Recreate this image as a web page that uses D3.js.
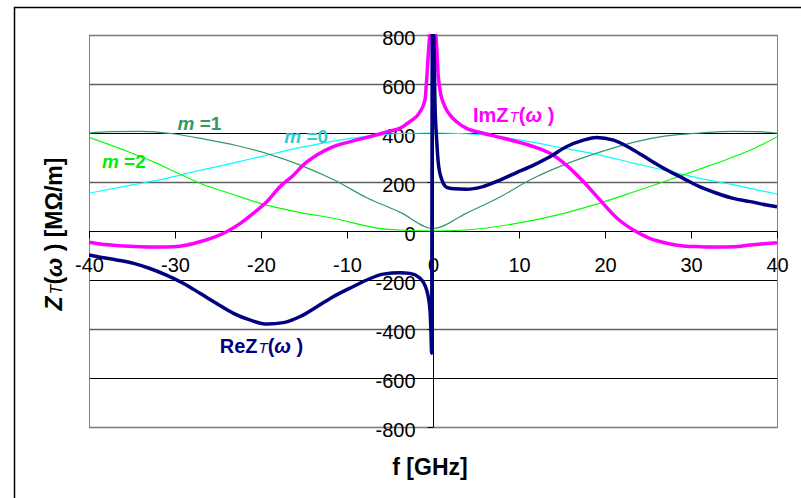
<!DOCTYPE html>
<html>
<head>
<meta charset="utf-8">
<script src="https://cdn.jsdelivr.net/npm/d3@7"></script>
<style>
  body { margin: 0; background: #fff; }
  svg { display: block; font-family: Arial, "Liberation Sans", sans-serif; }
</style>
</head>
<body>
<div id="chart"></div>
<script>
////////////////////////////////////////////////////////////////////////
// Data (f in GHz, Z in MOhm/m)

let imFreq = [-40, -38.7, -36.5, -34.1, -32, -30.2, -28.6, -27.1, -25.5, -24, -22.4, -20.9,
              -19.3, -17.8, -16.2, -15.1, -13.5, -11.6, -9.7, -7.7, -6.2, -5.0, -3.8, -2.7,
              -1.5, -0.93, -0.74, -0.54, -0.35, 0.3, 0.62, 0.81, 1.4, 1.98, 2.75, 3.9, 5.85,
              7.8, 9.7, 11.7, 13.6, 15.5, 17.5, 19.4, 21.4, 23.3, 25.2, 27.2, 29.1, 31, 33,
              34.9, 36.9, 38.5, 40];
let imValue = [-46, -53, -60, -64, -65, -64, -57, -44, -26, -3, 31, 72,
               120, 181, 229, 269, 310, 344, 364, 382, 396, 408, 420, 446,
               487, 535, 616, 725, 800, 800, 630, 576, 507, 473, 446, 419, 399,
               382, 365, 344, 317, 269, 201, 127, 52, 4, -30, -50, -61, -64, -65,
               -64, -57, -52, -48];

let reFreq = [-40, -38.7, -36.8, -34.8, -33, -31, -29, -27.1, -25.2, -23.2, -21.3, -19.3,
              -17.4, -15.5, -13.5, -11.6, -9.7, -7.7, -5.8, -3.8, -2.7, -1.5, -0.74, -0.35,
              -0.23, -0.16, -0.08, 0.08, 0.23, 0.43, 0.62, 1.0, 1.6, 2.4, 3.9, 5.8, 7.8,
              9.7, 11.7, 13.6, 15.5, 17.5, 19.0, 21.0, 23.3, 25.2, 27.2, 29.1, 31, 33,
              34.9, 36.9, 38.8, 40];
let reValue = [-98, -107, -118, -132, -152, -180, -214, -254, -295, -336, -363, -380,
               -374, -350, -309, -268, -234, -200, -176, -170, -173, -193, -241, -322,
               -418, -499, 800, 800, 521, 370, 276, 212, 178, 172, 170, 181, 208,
               238, 269, 303, 344, 371, 382, 371, 331, 290, 249, 215, 181, 154,
               133, 120, 106, 99];

let m0Freq  = [-40, -35, -31, -27.2, -23.3, -19.4, -15.5, -11.7, -7.8, -3.9, 0,
               3.9, 7.8, 11.7, 15.5, 19.4, 23.3, 27.2, 31, 35, 40];
let m0Value = [154, 188, 215, 247, 277, 309, 340, 366, 386, 398, 400,
               397, 384, 362, 336, 310, 277, 246, 215, 188, 150];

let m1Freq  = [-40, -37.6, -34, -30.2, -26.3, -23, -19.3, -15.5, -11.6, -7.7, -3.8, 0,
               3.9, 7.8, 11.6, 15.5, 19.4, 23.3, 27.1, 31, 34.9, 37.6, 40];
let m1Value = [400, 406, 407, 397, 373, 350, 316, 270, 210, 136, 76, 10,
               73, 139, 214, 274, 322, 362, 388, 400, 407, 406, 400];

let m2Freq  = [-40, -36, -32.1, -29.6, -27.1, -23.3, -20.1, -15.5, -11.6, -6.2, -3.8, 0,
               3.8, 9.7, 14.5, 19.4, 23.3, 26.5, 29.1, 32, 34.9, 37.5, 40];
let m2Value = [382, 331, 276, 235, 195, 150, 113, 76, 52, 11, 4, 0,
               4, 31, 66, 114, 159, 197, 229, 265, 302, 340, 384];

let xTicks = [-40, -30, -20, -10, 0, 10, 20, 30, 40];
let yTicks = [-800, -600, -400, -200, 0, 200, 400, 600, 800];

////////////////////////////////////////////////////////////////////////
// Layout

let width = 801, height = 498;
let plotLeft = 89, plotRight = 777, plotTop = 35, plotBottom = 427;

let xScale = d3.scaleLinear().domain([-40, 40]).range([plotLeft, plotRight]);
let yScale = d3.scaleLinear().domain([-800, 800]).range([plotBottom, plotTop]);

let svg = d3.select("#chart")
  .append("svg")
  .attr("width", width)
  .attr("height", height);

// outer frame of the chart (runs off the right and bottom edge)
svg.append("rect")
  .attr("x", 14.5).attr("y", 7.5)
  .attr("width", width).attr("height", height)
  .attr("fill", "none")
  .attr("stroke", "black")
  .attr("stroke-width", 1.5);

// horizontal gridlines; every other one looks softer in the original
function softLine(v) { return v == 800 || v == 600 || v == 200 || v == -400 || v == -800; }

svg.append("g")
  .selectAll("line")
  .data(yTicks.filter(function(v) { return v != 0; }))
  .enter()
  .append("line")
  .attr("x1", plotLeft).attr("x2", plotRight)
  .attr("y1", function(d) { return Math.round(yScale(d)) + 0.5; })
  .attr("y2", function(d) { return Math.round(yScale(d)) + 0.5; })
  .attr("stroke", function(d) { return softLine(d) ? "#606060" : "#000"; })
  .attr("stroke-width", function(d) { return softLine(d) ? 1.5 : 1; });

// plot area border
svg.append("rect")
  .attr("x", plotLeft + 0.5).attr("y", plotTop + 0.5)
  .attr("width", plotRight - plotLeft).attr("height", plotBottom - plotTop)
  .attr("fill", "none")
  .attr("stroke", "#808080");

// axes crossing at zero (plain hyphen for the minus sign)
let xAxis = d3.axisBottom(xScale)
  .tickValues(xTicks)
  .tickSize(7)
  .tickSizeOuter(0)
  .tickPadding(19)
  .tickFormat(function(d) { return String(d); });

let yAxis = d3.axisLeft(yScale)
  .tickValues(yTicks)
  .tickSize(6)
  .tickSizeOuter(0)
  .tickPadding(12)
  .tickFormat(function(d) { return String(d); });

let gx = svg.append("g")
  .attr("transform", "translate(0," + (Math.round(yScale(0)) + 0.5) + ")")
  .call(xAxis);
let gy = svg.append("g")
  .attr("transform", "translate(" + (Math.round(xScale(0)) + 0.5) + ",0)")
  .call(yAxis);

[gx, gy].forEach(function(g) {
  g.selectAll("path, line").attr("stroke", "black");
  g.selectAll("text")
    .attr("fill", "black")
    .style("font-size", "20px")
    .style("font-family", "Arial, 'Liberation Sans', sans-serif");
});
gy.selectAll("text").attr("dy", "0.45em");
gy.select(".domain").attr("d", "M0," + plotTop + "V" + plotBottom);
gx.select(".domain").attr("d", "M" + plotLeft + ",0H" + plotRight);

////////////////////////////////////////////////////////////////////////
// Curves

svg.append("clipPath").attr("id", "plotClip")
  .append("rect")
  .attr("x", plotLeft).attr("y", plotTop - 1)
  .attr("width", plotRight - plotLeft).attr("height", plotBottom - plotTop + 2);

let lineGen = d3.line()
  .x(function(d) { return xScale(d[0]); })
  .y(function(d) { return yScale(d[1]); })
  .curve(d3.curveMonotoneX);

function pairs(fs, vs) {
  return fs.map(function(f, i) { return [f, vs[i]]; });
}

let series = [
  { pts: pairs(m0Freq, m0Value), color: "#00ffff", width: 1.2 },
  { pts: pairs(m1Freq, m1Value), color: "#339966", width: 1.2 },
  { pts: pairs(m2Freq, m2Value), color: "#00ff00", width: 1.2 },
  { pts: pairs(imFreq, imValue), color: "#ff00ff", width: 3.5 },
  { pts: pairs(reFreq, reValue), color: "#000080", width: 3.5 }
];

svg.append("g")
  .attr("clip-path", "url(#plotClip)")
  .selectAll("path")
  .data(series)
  .enter()
  .append("path")
  .attr("d", function(d) { return lineGen(d.pts); })
  .attr("fill", "none")
  .attr("stroke", function(d) { return d.color; })
  .attr("stroke-width", function(d) { return d.width; })
  .attr("stroke-linejoin", "round");

////////////////////////////////////////////////////////////////////////
// Labels

function mLabel(text, color, f, v) {
  let t = svg.append("text")
    .attr("x", xScale(f)).attr("y", yScale(v))
    .attr("fill", color)
    .style("font-size", "19px")
    .style("font-weight", "bold");
  t.append("tspan").style("font-style", "italic").text("m");
  t.append("tspan").text(" =" + text);
}
mLabel("1", "#339966", -29.7, 412);
mLabel("0", "#33cccc", -17.3, 359);
mLabel("2", "#00ee00", -38.5, 257);

function zLabel(prefix, color, f, v) {
  let t = svg.append("text")
    .attr("x", xScale(f)).attr("y", yScale(v))
    .attr("fill", color)
    .style("font-size", "20px")
    .style("font-weight", "bold");
  t.append("tspan").text(prefix + "Z");
  t.append("tspan").style("font-style", "italic").style("font-weight", "normal")
    .style("font-size", "15px").attr("dx", 1).text("T");
  t.append("tspan").text("(");
  t.append("tspan").style("font-style", "italic").text("\u03c9");
  t.append("tspan").text(" )");
}
zLabel("Im", "#ff00ff", 4.65, 445);
zLabel("Re", "#000080", -24.8, -498);

// axis titles
svg.append("text")
  .attr("x", 430).attr("y", 475)
  .attr("text-anchor", "middle")
  .style("font-size", "23px")
  .style("font-weight", "bold")
  .text("f [GHz]");

let yt = svg.append("text")
  .attr("transform", "translate(62,234) rotate(-90)")
  .attr("text-anchor", "middle")
  .style("font-size", "23px")
  .style("font-weight", "bold");
yt.append("tspan").style("font-style", "italic").text("Z");
yt.append("tspan").style("font-style", "italic").style("font-weight", "normal")
  .style("font-size", "16px").attr("dx", 2).text("T");
yt.append("tspan").text("(");
yt.append("tspan").style("font-style", "italic").text("\u03c9");
yt.append("tspan").text(" ) [M\u03a9/m]");
</script>
</body>
</html>
